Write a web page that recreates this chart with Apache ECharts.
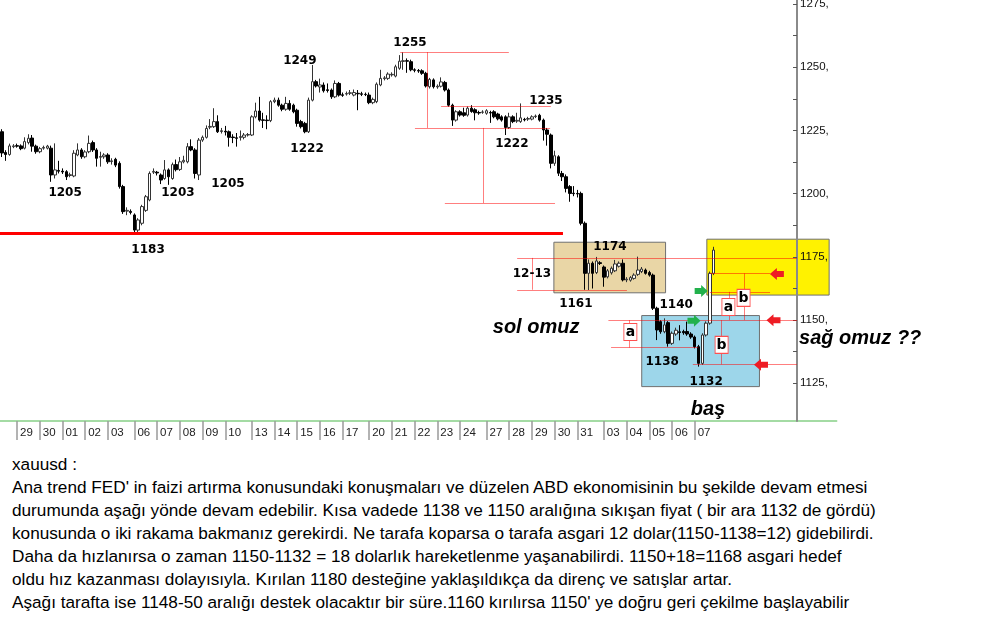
<!DOCTYPE html>
<html><head><meta charset="utf-8">
<script src="https://cdn.jsdelivr.net/npm/echarts@6/dist/echarts.min.js"></script>
<style>
html,body{margin:0;padding:0;background:#fff;width:1000px;height:642px;overflow:hidden;}
#chart{position:absolute;left:0;top:0;width:1000px;height:450px;}
#note{position:absolute;left:12px;top:453px;font-family:'Liberation Sans',Arial,sans-serif;font-size:17.2px;line-height:23px;color:#000;white-space:nowrap;}
</style></head><body>
<div id="chart"></div>
<div id="note">xauusd :<br>Ana trend FED' in faizi artırma konusundaki konuşmaları ve düzelen ABD ekonomisinin bu şekilde devam etmesi<br>durumunda aşağı yönde devam edebilir. Kısa vadede 1138 ve 1150 aralığına sıkışan fiyat ( bir ara 1132 de gördü)<br>konusunda o iki rakama bakmanız gerekirdi. Ne tarafa koparsa o tarafa asgari 12 dolar(1150-1138=12) gidebilirdi.<br>Daha da hızlanırsa o zaman 1150-1132 = 18 dolarlık hareketlenme yaşanabilirdi. 1150+18=1168 asgari hedef<br>oldu hız kazanması dolayısıyla. Kırılan 1180 desteğine yaklaşıldıkça da direnç ve satışlar artar.<br>Aşağı tarafta ise 1148-50 aralığı destek olacaktır bir süre.1160 kırılırsa 1150' ye doğru geri çekilme başlayabilir</div>
<script>
// ---- day tick labels ('|' = short Sunday bar) ----
const dayTicks = ['29','30','01','02','03','|','06','07','08','09','10','|','13','14','15','16','17','|','20','21','22','23','24','|','27','28','29','30','31','|','03','04','05','06','07'];
const leadBars = 4, barsPerDay = 6, totalSlots = 221;

// ---- XAUUSD 4H candles: [open, close, low, high] ----
const ohlc = [
[1224.5,1216.1,1214.5,1225.5],[1216.3,1215.5,1213.0,1217.2],[1215.5,1218.9,1215.0,1219.8],[1218.6,1218.9,1218.0,1219.6],
[1219.0,1218.8,1218.2,1219.8],[1218.9,1217.8,1217.2,1219.5],[1218.0,1220.6,1217.5,1222.3],[1220.2,1221.9,1219.5,1223.5],
[1222.0,1218.8,1216.6,1223.2],[1218.8,1216.6,1215.8,1219.4],[1216.6,1217.8,1216.0,1218.5],[1218.0,1218.3,1217.4,1219.0],
[1218.0,1218.8,1217.5,1219.3],[1218.0,1207.4,1204.7,1219.0],[1207.4,1209.4,1206.0,1219.9],[1209.2,1208.9,1208.0,1213.0],
[1208.9,1208.6,1207.8,1210.0],[1208.7,1206.7,1205.4,1209.3],[1207.2,1207.5,1206.5,1208.3],[1207.0,1216.0,1206.5,1217.2],
[1215.3,1217.3,1214.8,1219.9],[1217.3,1214.6,1213.8,1218.0],[1214.6,1216.5,1214.0,1217.2],[1216.6,1219.9,1216.0,1223.0],
[1220.2,1217.3,1216.5,1221.0],[1217.3,1214.0,1210.7,1218.0],[1214.4,1214.7,1210.7,1216.6],[1214.6,1215.3,1213.8,1216.0],
[1215.3,1212.6,1211.8,1216.0],[1212.7,1213.0,1211.5,1214.0],[1213.6,1211.3,1210.5,1214.2],[1212.0,1202.8,1202.0,1212.8],
[1202.8,1192.9,1192.0,1203.5],[1193.1,1193.4,1191.5,1194.6],[1193.0,1192.6,1191.8,1193.8],[1191.6,1185.6,1183.7,1192.2],
[1185.6,1189.6,1184.8,1190.3],[1188.3,1194.9,1187.5,1195.6],[1193.4,1198.8,1192.8,1199.5],[1197.5,1208.0,1197.0,1208.8],
[1208.5,1208.8,1207.8,1210.0],[1208.5,1208.2,1207.2,1209.0],[1207.4,1205.4,1203.8,1208.0],[1206.0,1209.4,1205.5,1213.3],
[1209.4,1206.7,1203.5,1210.0],[1206.0,1211.5,1205.5,1212.3],[1211.5,1209.5,1208.8,1213.5],[1209.6,1212.6,1209.0,1214.5],
[1212.6,1213.2,1212.0,1215.0],[1212.6,1218.6,1212.0,1220.0],[1218.6,1217.3,1216.8,1221.5],[1217.3,1208.0,1206.0,1218.0],
[1207.4,1221.2,1205.4,1222.0],[1221.2,1222.3,1220.5,1223.0],[1222.3,1225.8,1221.8,1227.0],[1226.3,1226.6,1225.5,1229.5],
[1226.5,1228.5,1226.0,1233.8],[1228.5,1224.5,1224.0,1231.0],[1224.6,1224.9,1223.8,1226.0],[1224.7,1224.4,1223.0,1226.8],
[1224.5,1222.3,1218.6,1225.0],[1222.4,1222.2,1220.0,1223.5],[1222.1,1221.9,1218.6,1224.0],[1222.2,1222.6,1221.0,1225.0],
[1222.3,1223.2,1221.5,1224.0],[1223.2,1223.4,1222.6,1224.0],[1223.2,1230.4,1222.8,1231.0],[1230.4,1232.7,1229.8,1236.0],
[1232.7,1229.1,1228.5,1238.3],[1229.2,1229.0,1226.0,1232.0],[1229.1,1228.9,1225.5,1231.0],[1228.9,1236.4,1228.3,1237.0],
[1236.4,1237.0,1235.8,1238.0],[1237.0,1235.0,1234.4,1238.0],[1235.0,1233.4,1232.6,1235.6],[1233.4,1235.7,1232.8,1238.3],
[1235.7,1233.4,1232.8,1237.0],[1235.0,1232.4,1231.8,1235.6],[1233.0,1227.8,1226.5,1233.6],[1228.5,1226.5,1225.8,1229.2],
[1227.8,1224.5,1223.9,1228.4],[1224.5,1237.0,1224.0,1238.0],[1237.0,1244.3,1236.5,1250.9],[1244.3,1242.6,1242.0,1245.0],
[1242.2,1243.0,1240.0,1245.5],[1243.0,1240.7,1240.0,1244.0],[1241.1,1240.8,1240.0,1243.6],[1241.0,1238.3,1237.5,1241.6],
[1238.3,1243.6,1237.8,1244.8],[1243.6,1239.0,1238.4,1244.2],[1239.1,1238.9,1238.3,1240.0],[1239.4,1239.6,1238.8,1240.4],
[1239.7,1239.9,1239.0,1241.0],[1239.0,1240.0,1238.5,1241.2],[1239.7,1239.5,1233.0,1241.0],[1239.5,1239.3,1238.6,1240.3],
[1239.3,1239.2,1238.6,1240.0],[1239.0,1236.0,1235.4,1240.0],[1236.0,1237.3,1235.4,1238.0],[1236.4,1243.3,1235.8,1244.0],
[1243.0,1245.6,1242.5,1249.0],[1245.5,1245.8,1244.8,1246.5],[1245.6,1247.3,1245.0,1248.0],[1247.0,1247.2,1246.3,1248.0],
[1246.5,1250.2,1246.0,1251.0],[1249.6,1252.4,1249.0,1254.8],[1252.3,1252.6,1249.0,1255.9],[1252.6,1252.4,1247.8,1253.5],
[1252.2,1249.0,1248.4,1253.0],[1249.0,1248.8,1248.0,1249.6],[1248.7,1248.5,1247.8,1249.3],[1248.6,1247.6,1247.0,1249.2],
[1247.6,1242.6,1242.0,1248.2],[1242.3,1245.2,1241.6,1245.8],[1245.0,1242.3,1241.6,1245.6],[1242.2,1242.5,1241.5,1243.2],
[1242.5,1244.2,1242.0,1246.0],[1244.0,1241.0,1240.4,1244.6],[1241.0,1235.0,1234.4,1241.6],[1235.0,1229.1,1226.8,1235.6],
[1229.1,1232.4,1228.5,1233.0],[1232.4,1231.1,1230.5,1233.0],[1232.0,1231.0,1230.4,1234.0],[1231.1,1233.8,1230.5,1234.5],
[1233.8,1232.5,1232.0,1235.0],[1233.2,1232.0,1229.0,1233.8],[1232.1,1231.9,1231.2,1232.8],[1232.2,1232.3,1231.6,1233.0],
[1231.8,1232.8,1231.2,1233.4],[1232.1,1231.9,1228.0,1232.8],[1232.4,1230.4,1229.8,1233.0],[1231.5,1229.6,1229.0,1232.0],
[1230.4,1229.1,1228.5,1231.0],[1230.4,1226.2,1223.2,1231.0],[1226.2,1230.4,1225.6,1232.0],[1230.4,1228.5,1227.9,1231.0],
[1228.7,1229.0,1228.0,1232.0],[1228.5,1230.0,1228.0,1235.7],[1229.4,1229.2,1228.6,1230.0],[1229.5,1229.7,1228.8,1230.4],
[1229.5,1230.4,1229.0,1231.0],[1230.5,1230.7,1229.9,1231.3],[1231.0,1229.1,1228.5,1231.6],[1229.1,1225.2,1221.0,1229.7],
[1225.2,1223.5,1219.0,1226.0],[1223.2,1212.0,1210.0,1223.8],[1212.0,1215.0,1211.0,1217.0],[1214.6,1208.1,1207.0,1215.2],
[1208.0,1206.7,1205.0,1209.0],[1206.7,1202.1,1200.5,1207.6],[1202.8,1200.1,1196.8,1203.4],[1200.2,1200.0,1199.0,1203.0],
[1200.1,1199.9,1198.5,1201.5],[1200.1,1188.3,1187.5,1200.8],[1188.3,1168.5,1162.0,1189.0],[1168.5,1172.5,1161.9,1174.0],
[1172.5,1168.5,1162.5,1173.2],[1168.8,1173.4,1168.2,1175.0],[1172.7,1172.4,1171.8,1173.3],[1171.0,1167.0,1163.2,1171.6],
[1167.1,1169.5,1166.5,1170.2],[1168.7,1170.5,1168.0,1171.2],[1169.5,1172.2,1169.0,1173.8],[1171.3,1172.5,1170.8,1173.2],
[1172.5,1165.9,1165.3,1174.0],[1165.9,1166.2,1165.0,1167.0],[1165.8,1166.8,1165.2,1167.4],[1166.5,1167.8,1166.0,1168.5],
[1168.1,1169.8,1167.5,1175.1],[1169.2,1170.2,1168.6,1171.0],[1169.8,1168.5,1168.0,1170.4],[1168.8,1167.8,1167.2,1169.5],
[1167.8,1154.7,1154.0,1168.4],[1154.7,1146.1,1142.1,1155.3],[1149.4,1145.4,1144.6,1150.0],[1145.4,1148.1,1144.8,1150.7],
[1149.0,1140.8,1139.5,1149.6],[1140.8,1144.8,1140.2,1145.5],[1144.5,1146.0,1143.8,1147.0],[1145.4,1145.1,1142.0,1148.0],
[1145.5,1145.0,1144.2,1146.2],[1145.5,1144.5,1143.8,1149.4],[1144.5,1143.3,1142.6,1145.2],[1143.3,1139.5,1138.8,1143.9],
[1139.5,1132.9,1131.6,1140.2],[1132.9,1144.1,1132.3,1144.8],[1144.1,1148.8,1143.5,1149.5],[1148.8,1168.5,1148.2,1169.2],
[1168.5,1177.7,1167.8,1179.0]
];

// ---- y-axis tick labels ----
const priceTicks = [1125,1150,1175,1200,1225,1250,1275];
const priceMinorTicks = [1125,1137.5,1150,1162.5,1175,1187.5,1200,1212.5,1225,1237.5,1250,1262.5,1275];
const priceMin = 1110.1, priceMax = 1276.6;

// ---- annotations in (bar index, price) ----
const boxes = [ // [i0, p0, i1, p1, fill]
  [145.8,1180.8,175.3,1160.8,'#e9d6a6'],
  [169.0,1151.8,200.1,1123.7,'#9dd6ea'],
  [186.2,1182.0,218.5,1159.9,'#fff200']
];
const supportLine = [-0.5,1184.4,148.2,1184.4];
const thinLines = [ // [i0,p0,i1,p1]
  [105.2,1256.0,133.9,1256.0],[112.3,1256.0,112.3,1226.0],[109.1,1226.0,144.8,1226.0],
  [127.1,1226.0,127.1,1196.3],[117.0,1196.3,146.1,1196.3],[116.0,1234.7,145.0,1234.7],
  [136.1,1174.6,210.0,1174.6],[136.1,1162.0,165.1,1162.0],[140.0,1174.6,140.0,1162.0],
  [160.2,1150.0,210.0,1150.0],[160.9,1139.1,183.9,1139.1],[182.5,1132.5,210.0,1132.5],
  [165.7,1150.0,165.7,1139.1],[190.1,1150.0,190.1,1132.5],[192.1,1161.2,192.1,1150.0],
  [196.1,1168.5,196.1,1150.0],[187.0,1168.5,202.9,1168.5],[187.0,1161.2,202.9,1161.2]
];
const priceNotes = [ // [text, i, p]
  ['1205',16.7,1200.3],['1183',38.6,1177.7],['1203',46.5,1200.3],['1205',59.7,1203.8],
  ['1249',78.7,1252.5],['1222',80.6,1217.7],['1255',107.8,1259.6],['1235',143.7,1236.7],
  ['1222',134.7,1219.6],['1174',160.6,1178.9],['12-13',140.0,1168.2],['1161',151.6,1156.4],
  ['1140',178.1,1156.0],['1138',174.4,1133.5],['1132',186.0,1125.5]
];
const patternNotes = [['sol omuz',141.1,1146.9],['baş',186.5,1114.5]];
const rightNote = ['sağ omuz ??',210.3,1142.9];
const letterBoxes = [['a',166.0,1145.3],['b',190.1,1140.2],['a',191.9,1155.2],['b',195.9,1158.8]];
const redArrows = [[204.7,1168.2],[203.8,1149.9],[200.5,1132.3]];
const greenArrows = [[184.7,1161.5],[182.8,1149.7]];

// ---- categories ----
const cats = [], labelAt = {};
for (let i = 0; i < leadBars; i++) cats.push('pre' + i);
dayTicks.forEach((d, k) => {
  if (d === '|') { cats.push('sun' + k); return; }
  for (let j = 0; j < barsPerDay; j++) { if (j === 0) labelAt[cats.length] = d; cats.push('d' + k + '_' + j); }
});
while (cats.length < totalSlots) cats.push('f' + cats.length);
const isDay = (i) => labelAt[i] !== undefined;

const chart = echarts.init(document.getElementById('chart'), null, {renderer: 'canvas'});
const numFont = {fontFamily: 'DejaVu Sans', fontWeight: 'bold', fontSize: 12, color: '#000'};
const italicFont = {fontFamily: 'Liberation Sans', fontWeight: 'bold', fontStyle: 'italic', fontSize: 20, color: '#000'};
const LEFT_ARROW = 'path://M0,5 L5,0 L5,2.5 L10,2.5 L10,7.5 L5,7.5 L5,10 Z';
const RIGHT_ARROW = 'path://M10,5 L5,0 L5,2.5 L0,2.5 L0,7.5 L5,7.5 L5,10 Z';

chart.setOption({
  animation: false,
  backgroundColor: '#fff',
  grid: [
    {left: 0, top: 0, width: 836.7, height: 421, outerBoundsMode: 'none', containLabel: false},
    {left: 0, top: 0, width: 797, height: 421, outerBoundsMode: 'none', containLabel: false}
  ],
  xAxis: [{
    gridIndex: 0, type: 'category', data: cats, boundaryGap: true,
    axisLine: {show: true, onZero: false, lineStyle: {color: '#86cf86', width: 1.5}},
    axisTick: {show: true, alignWithLabel: true, interval: (i) => isDay(i), length: 19, lineStyle: {color: '#9a9a9a', width: 1.5}},
    axisLabel: {show: true, interval: (i) => isDay(i), formatter: (v, i) => labelAt[i] || '', align: 'left', margin: 6,
      padding: [0, 0, 0, 3], fontFamily: 'Liberation Sans', fontSize: 11.5, color: '#222'},
    splitLine: {show: false}
  }, {
    gridIndex: 0, type: 'value', min: -0.5, max: 220.5, show: false
  }, {
    gridIndex: 1, type: 'value', min: 0, max: 1, show: false
  }],
  yAxis: [{
    gridIndex: 0, type: 'value', min: priceMin, max: priceMax, show: false
  }, {
    gridIndex: 1, type: 'value', min: priceMin, max: priceMax, position: 'right', z: 4,
    axisLine: {show: true, onZero: false, lineStyle: {color: '#8a8a8a', width: 2}},
    axisTick: {show: true, inside: true, length: 4, customValues: priceMinorTicks, lineStyle: {color: '#555'}},
    axisLabel: {show: true, customValues: priceTicks, formatter: (v) => v + ',', margin: 3,
      fontFamily: 'Liberation Sans', fontSize: 11.5, color: '#111'},
    splitLine: {show: false}
  }],
  series: [
    {
      type: 'line', xAxisIndex: 1, yAxisIndex: 0, data: [], z: 1, silent: true,
      markArea: {silent: true, data: boxes.map(b => [
        {coord: [b[0], b[1]], itemStyle: {color: b[4], borderColor: '#6f6f6f', borderWidth: 1}},
        {coord: [b[2], b[3]]}
      ])}
    },
    {
      type: 'candlestick', xAxisIndex: 0, yAxisIndex: 0, data: ohlc, z: 2, barWidth: 3,
      itemStyle: {color: '#ffffff', color0: '#000000', borderColor: '#333333', borderColor0: '#000000', borderWidth: 1}
    },
    {
      type: 'line', xAxisIndex: 1, yAxisIndex: 0, data: [], z: 3, silent: true,
      markLine: {silent: true, symbol: ['none', 'none'], label: {show: false}, animation: false,
        data: [[{coord: [supportLine[0], supportLine[1]], lineStyle: {color: '#ff0000', width: 3, type: 'solid'}}, {coord: [supportLine[2], supportLine[3]]}]]
          .concat(thinLines.map(l => [
            {coord: [l[0], l[1]], lineStyle: {color: 'rgba(255,0,0,0.5)', width: 1, type: 'solid'}},
            {coord: [l[2], l[3]]}
          ]))
      }
    },
    {
      type: 'line', xAxisIndex: 1, yAxisIndex: 0, data: [], z: 5, silent: true,
      markPoint: {silent: true, animation: false, data: []
        .concat(priceNotes.map(n => ({coord: [n[1], n[2]], symbol: 'rect', symbolSize: 0, itemStyle: {color: 'transparent'},
          label: Object.assign({show: true, position: 'inside', formatter: n[0]}, numFont)})))
        .concat(patternNotes.map(n => ({coord: [n[1], n[2]], symbol: 'rect', symbolSize: 0, itemStyle: {color: 'transparent'},
          label: Object.assign({show: true, position: 'inside', formatter: n[0]}, italicFont)})))
        .concat([{coord: [rightNote[1], rightNote[2]], symbol: 'rect', symbolSize: 0, itemStyle: {color: 'transparent'},
          label: Object.assign({show: true, position: 'right', distance: 0, formatter: rightNote[0], backgroundColor: '#fff', padding: [1, 2, 1, 1]}, italicFont)}])
        .concat(letterBoxes.map(n => ({coord: [n[1], n[2]], symbol: 'rect', symbolSize: [13, 17],
          itemStyle: {color: '#fff', borderColor: '#ff5050', borderWidth: 1},
          label: {show: true, position: 'inside', formatter: n[0], fontFamily: 'DejaVu Sans', fontWeight: 'bold', fontSize: 14, color: '#000'}})))
        .concat(redArrows.map(a => ({coord: a, symbol: LEFT_ARROW, symbolSize: [14, 12], itemStyle: {color: '#ee1c24'}, label: {show: false}})))
        .concat(greenArrows.map(a => ({coord: a, symbol: RIGHT_ARROW, symbolSize: [13, 12], itemStyle: {color: '#22b14c'}, label: {show: false}})))
      }
    }
  ]
});
</script>
</body></html>
